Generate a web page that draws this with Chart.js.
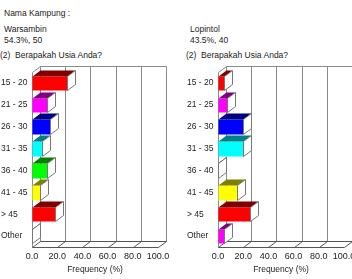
<!DOCTYPE html>
<html>
<head>
<meta charset="utf-8">
<script src="https://cdn.jsdelivr.net/npm/chart.js@4/dist/chart.umd.min.js"></script>
<style>
  body { margin: 0; background: #fff; width: 352px; height: 279px; overflow: hidden; position: relative;
         font-family: "Liberation Sans", Arial, sans-serif; color: #222; }
  .t { position: absolute; font-size: 8.5px; line-height: 10px; white-space: pre; }
  .box { position: absolute; top: 60px; height: 219px; }
</style>
</head>
<body>
<div class="t" style="left:4px;top:8px">Nama Kampung :</div>
<div class="t" style="left:4px;top:24px">Warsambin</div>
<div class="t" style="left:4px;top:35px">54.3%, 50</div>
<div class="t" style="left:0px;top:50px">(2)  Berapakah Usia Anda?</div>
<div class="t" style="left:190px;top:24px">Lopintol</div>
<div class="t" style="left:190px;top:35px">43.5%, 40</div>
<div class="t" style="left:186px;top:50px">(2)  Berapakah Usia Anda?</div>

<div class="box" style="left:0;width:176px"><canvas id="left"></canvas></div>
<div class="box" style="left:186px;width:166px"><canvas id="right"></canvas></div>

<script>
// Data
const categories = ["15 - 20", "21 - 25", "26 - 30", "31 - 35", "36 - 40", "41 - 45", "> 45", "Other"];
const warsambinValues = [28, 12, 14, 8, 12, 6, 18, 0];
const lopintolValues = [5, 7.5, 20, 20, 0, 15, 25, 5];
const xTicks = [0, 20, 40, 60, 80, 100];

// front / top face colours
const faceColors = ["#ff0000", "#ff00ff", "#0000ff", "#00ffff", "#00ff00", "#ffff00", "#ff0000", "#ff00ff"];
const topColors = ["#800000", "#800080", "#000080", "#008080", "#008000", "#808000", "#800000", "#800080"];

const DX = 8, DY = 6;
const FONT = "'Liberation Sans', Arial, sans-serif";

function line(ctx, x1, y1, x2, y2) {
    ctx.beginPath();
    ctx.moveTo(x1, y1);
    ctx.lineTo(x2, y2);
    ctx.stroke();
}

function poly(ctx, pts, fill, stroke) {
    ctx.beginPath();
    ctx.moveTo(pts[0][0], pts[0][1]);
    pts.slice(1).forEach(p => ctx.lineTo(p[0], p[1]));
    ctx.closePath();
    if (fill) { ctx.fillStyle = fill; ctx.fill(); }
    if (stroke) { ctx.strokeStyle = stroke; ctx.stroke(); }
}

// draws the 3d frame (walls, floor) and the 3d boxes
const box3d = {
    id: 'box3d',
    beforeDatasetsDraw(chart) {
        const { ctx, chartArea: a, scales: { x } } = chart;
        const top = Math.round(a.top) + 0.5, bottom = Math.round(a.bottom) + 0.5;
        const x0 = Math.round(x.getPixelForValue(0)) + 0.5;
        const x100 = Math.round(x.getPixelForValue(100)) + 0.5;
        ctx.save();
        ctx.lineWidth = 1;
        ctx.strokeStyle = '#8a8a8a';
        xTicks.forEach(v => {
            const px = Math.round(x.getPixelForValue(v)) + 0.5;
            line(ctx, px + DX, top - DY, px + DX, bottom - DY);
        });
        line(ctx, x0 + DX, top - DY, x100 + DX, top - DY);
        // left wall
        line(ctx, x0, top, x0, bottom);
        line(ctx, x0, top, x0 + DX, top - DY);
        // floor
        ctx.strokeStyle = '#555';
        line(ctx, x0 + DX, bottom - DY, x100 + DX, bottom - DY);
        line(ctx, x0, bottom, x100, bottom);
        xTicks.forEach(v => {
            const px = Math.round(x.getPixelForValue(v)) + 0.5;
            line(ctx, px, bottom, px + DX, bottom - DY);
        });
        ctx.restore();
    },
    afterDatasetsDraw(chart) {
        const { ctx } = chart;
        const meta = chart.getDatasetMeta(0);
        ctx.save();
        ctx.lineWidth = 1;
        meta.data.forEach((bar, i) => {
            const p = bar.getProps(['x', 'y', 'base', 'height'], true);
            const t = Math.round(p.y - p.height / 2) + 0.5;
            const b = Math.round(p.y + p.height / 2) + 0.5;
            const l = Math.round(p.base) + 0.5;
            const r = Math.round(p.x) + 0.5;
            if (r > l) {
                ctx.fillStyle = faceColors[i];
                ctx.fillRect(l, t, r - l, b - t);
            }
            poly(ctx, [[l, t], [r, t], [r + DX, t - DY], [l + DX, t - DY]], topColors[i], r > l ? null : '#777');
            poly(ctx, [[r, t], [r + DX, t - DY], [r + DX, b - DY], [r, b]], '#fff', '#777');
        });
        ctx.restore();
    }
};

function makeChart(id, values, padRight) {
    return new Chart(document.getElementById(id), {
        type: 'bar',
        data: {
            labels: categories,
            datasets: [{
                data: values,
                backgroundColor: 'transparent',
                borderWidth: 0,
                barPercentage: 0.66,
                categoryPercentage: 1
            }]
        },
        options: {
            indexAxis: 'y',
            responsive: true,
            maintainAspectRatio: false,
            animation: false,
            events: [],
            layout: { padding: { left: 1, right: padRight, top: 12, bottom: 0 } },
            plugins: { legend: { display: false }, tooltip: { enabled: false } },
            scales: {
                x: {
                    min: 0,
                    max: 100,
                    afterFit: s => { s.height = 32; s.paddingLeft = 0; s.paddingRight = 0; },
                    afterBuildTicks: s => { s.ticks = xTicks.map(v => ({ value: v })); },
                    grid: { display: false, drawTicks: false },
                    border: { display: false },
                    ticks: {
                        padding: 4,
                        autoSkip: false,
                        minRotation: 0,
                        maxRotation: 0,
                        color: '#222',
                        font: { family: FONT, size: 9 },
                        callback: v => v.toFixed(1)
                    },
                    title: {
                        display: true,
                        text: 'Frequency (%)',
                        color: '#222',
                        font: { family: FONT, size: 8.5 },
                        padding: { top: 2, bottom: 4 }
                    }
                },
                y: {
                    afterFit: s => { s.width = 31; },
                    grid: { display: false, drawTicks: false },
                    border: { display: false },
                    ticks: {
                        crossAlign: 'far',
                        color: '#222',
                        font: { family: FONT, size: 8.5 }
                    }
                }
            }
        },
        plugins: [box3d]
    });
}

makeChart('left', warsambinValues, 18);
makeChart('right', lopintolValues, 8);
</script>
</body>
</html>
